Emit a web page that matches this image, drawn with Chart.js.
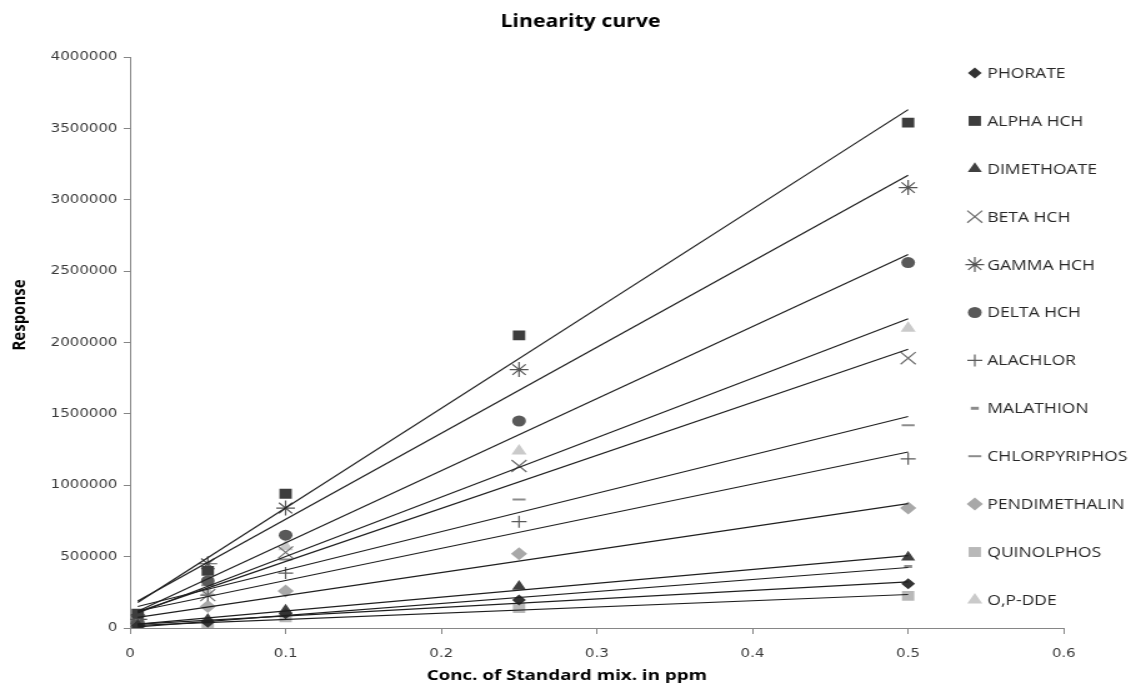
<!DOCTYPE html>
<html>
<head>
<meta charset="utf-8">
<script src="https://cdn.jsdelivr.net/npm/chart.js@4.4.0/dist/chart.umd.min.js"></script>
<style>
  html, body { margin: 0; padding: 0; background: #ffffff; }
</style>
</head>
<body>
<canvas id="linearity-chart" width="909" height="687" style="display:block;width:1136px;height:687px"></canvas>
<script>
// concentration of the standard mix (ppm) and responses
var concentrations = [0.005, 0.05, 0.1, 0.25, 0.5];

var phorate       = [15000, 40000, 100000, 196000, 310000];
var alphaHch      = [100000, 400000, 940000, 2050000, 3540000];
var dimethoate    = [20000, 60000, 125000, 290000, 495000];
var betaHch       = [50000, 230000, 530000, 1135000, 1890000];
var gammaHch      = [60000, 450000, 840000, 1810000, 3085000];
var deltaHch      = [40000, 330000, 650000, 1450000, 2560000];
var alachlor      = [30000, 230000, 385000, 745000, 1185000];
var malathion     = [10000, 50000, 90000, 200000, 430000];
var chlorpyriphos = [20000, 300000, 480000, 900000, 1420000];
var pendimethalin = [20000, 150000, 260000, 520000, 840000];
var quinolphos    = [5000, 30000, 75000, 140000, 225000];
var opDde         = [30000, 250000, 570000, 1240000, 2100000];

var xTicks = [0, 0.1, 0.2, 0.3, 0.4, 0.5, 0.6];
var yTicks = [0, 500000, 1000000, 1500000, 2000000, 2500000, 3000000, 3500000, 4000000];

var seriesNames = ['PHORATE', 'ALPHA HCH', 'DIMETHOATE', 'BETA HCH', 'GAMMA HCH', 'DELTA HCH',
  'ALACHLOR', 'MALATHION', 'CHLORPYRIPHOS', 'PENDIMETHALIN', 'QUINOLPHOS', 'O,P-DDE'];
var seriesValues = [phorate, alphaHch, dimethoate, betaHch, gammaHch, deltaHch,
  alachlor, malathion, chlorpyriphos, pendimethalin, quinolphos, opDde];

// marker look for each series (same order as names)
var markerStyles = [
  { style: 'rectRot',  radius: 5.5, fill: '#333333', stroke: '#333333', width: 0 },
  { style: 'rect',     radius: 7,   fill: '#3d3d3d', stroke: '#3d3d3d', width: 0 },
  { style: 'triangle', radius: 6.5, fill: '#404040', stroke: '#404040', width: 0 },
  { style: 'crossRot', radius: 8.5, fill: '#6e6e6e', stroke: '#6e6e6e', width: 1.2 },
  { style: 'star',     radius: 7.5, fill: '#555555', stroke: '#555555', width: 1.2 },
  { style: 'circle',   radius: 5.5, fill: '#595959', stroke: '#595959', width: 0 },
  { style: 'cross',    radius: 6,   fill: '#5a5a5a', stroke: '#5a5a5a', width: 1.2 },
  { style: 'line',     radius: 3.2, fill: '#8c8c8c', stroke: '#8c8c8c', width: 3 },
  { style: 'line',     radius: 5.2, fill: '#8c8c8c', stroke: '#8c8c8c', width: 2 },
  { style: 'rectRot',  radius: 6.5, fill: '#a8a8a8', stroke: '#a8a8a8', width: 0 },
  { style: 'rect',     radius: 7,   fill: '#b8b8b8', stroke: '#b8b8b8', width: 0 },
  { style: 'triangle', radius: 7,   fill: '#cacaca', stroke: '#cacaca', width: 0 }
];

function linearFit(xs, ys) {
  var n = xs.length, sx = 0, sy = 0, sxx = 0, sxy = 0;
  for (var i = 0; i < n; i++) {
    sx += xs[i]; sy += ys[i];
    sxx += xs[i] * xs[i]; sxy += xs[i] * ys[i];
  }
  var slope = (n * sxy - sx * sy) / (n * sxx - sx * sx);
  return { slope: slope, intercept: (sy - slope * sx) / n };
}

var datasets = [];

seriesValues.forEach(function (values, idx) {
  var m = markerStyles[idx];
  datasets.push({
    type: 'scatter',
    label: seriesNames[idx],
    data: concentrations.map(function (c, i) { return { x: c, y: values[i] }; }),
    pointStyle: m.style,
    pointRadius: m.radius,
    pointHoverRadius: m.radius,
    backgroundColor: m.fill,
    borderColor: m.stroke,
    pointBorderWidth: m.width,
    order: 2
  });
});

// linear trendline of every series over the measured range
seriesValues.forEach(function (values, idx) {
  var fit = linearFit(concentrations, values);
  var x0 = concentrations[0];
  var x1 = concentrations[concentrations.length - 1];
  datasets.push({
    type: 'line',
    label: seriesNames[idx] + ' trend',
    data: [
      { x: x0, y: fit.intercept + fit.slope * x0 },
      { x: x1, y: fit.intercept + fit.slope * x1 }
    ],
    borderColor: '#1f1f1f',
    borderWidth: 1.2,
    pointRadius: 0,
    fill: false,
    order: 1
  });
});

function drawMarker(ctx, m, x, y) {
  ctx.save();
  ctx.fillStyle = m.fill;
  ctx.strokeStyle = m.stroke;
  ctx.lineWidth = m.width || 1;
  if (Chart.helpers && Chart.helpers.drawPoint) {
    Chart.helpers.drawPoint(ctx, {
      pointStyle: m.style,
      radius: m.radius,
      rotation: 0,
      borderWidth: m.width
    }, x, y);
  }
  ctx.restore();
}

// title, axis titles and the legend sit where the picture has them
var overlayText = {
  id: 'overlayText',
  afterDraw: function (chart) {
    var ctx = chart.ctx;
    ctx.save();
    ctx.fillStyle = '#000000';
    ctx.textAlign = 'center';
    ctx.textBaseline = 'middle';
    ctx.font = 'bold 17px "Open Sans"';
    ctx.fillText('Linearity curve', 464.5, 22);

    ctx.font = 'bold 15px "Open Sans"';
    ctx.fillText('Conc. of Standard mix. in ppm', 453.5, 676);

    ctx.save();
    ctx.translate(16, 315);
    ctx.rotate(-Math.PI / 2);
    ctx.fillText('Response', 0, 0);
    ctx.restore();

    ctx.textAlign = 'left';
    ctx.font = '14px "Open Sans"';
    seriesNames.forEach(function (name, idx) {
      var y = 73 + idx * 47.9;
      drawMarker(ctx, markerStyles[idx], 780, y);
      ctx.fillStyle = '#262626';
      ctx.fillText(name, 790, y + 1);
    });
    ctx.restore();
  }
};

new Chart(document.getElementById('linearity-chart'), {
  type: 'scatter',
  data: { datasets: datasets },
  options: {
    responsive: false,
    animation: false,
    layout: { padding: { top: 57, right: 57.8, bottom: 0, left: 0 } },
    plugins: {
      legend: { display: false },
      title: { display: false },
      tooltip: { enabled: false }
    },
    scales: {
      x: {
        type: 'linear',
        min: 0,
        max: 0.6,
        afterFit: function (scale) { scale.height = 59; },
        afterBuildTicks: function (scale) {
          scale.ticks = xTicks.map(function (v) { return { value: v }; });
        },
        grid: { drawOnChartArea: false, drawTicks: true, tickLength: 6, color: '#868686' },
        border: { display: true, color: '#868686', width: 1 },
        ticks: {
          padding: 13,
          color: '#3a3a3a',
          font: { family: 'DejaVu Sans', size: 12 },
          callback: function (value) { return value === 0 ? '0' : Number(value).toFixed(1); }
        }
      },
      y: {
        type: 'linear',
        min: 0,
        max: 4000000,
        afterFit: function (scale) { scale.width = 104; },
        afterBuildTicks: function (scale) {
          scale.ticks = yTicks.map(function (v) { return { value: v }; });
        },
        grid: { drawOnChartArea: false, drawTicks: true, tickLength: 5, color: '#868686' },
        border: { display: true, color: '#868686', width: 1 },
        ticks: {
          padding: 5,
          color: '#3a3a3a',
          font: { family: 'DejaVu Sans', size: 12 },
          callback: function (value) { return String(value); }
        }
      }
    }
  },
  plugins: [overlayText]
});
</script>
</body>
</html>
